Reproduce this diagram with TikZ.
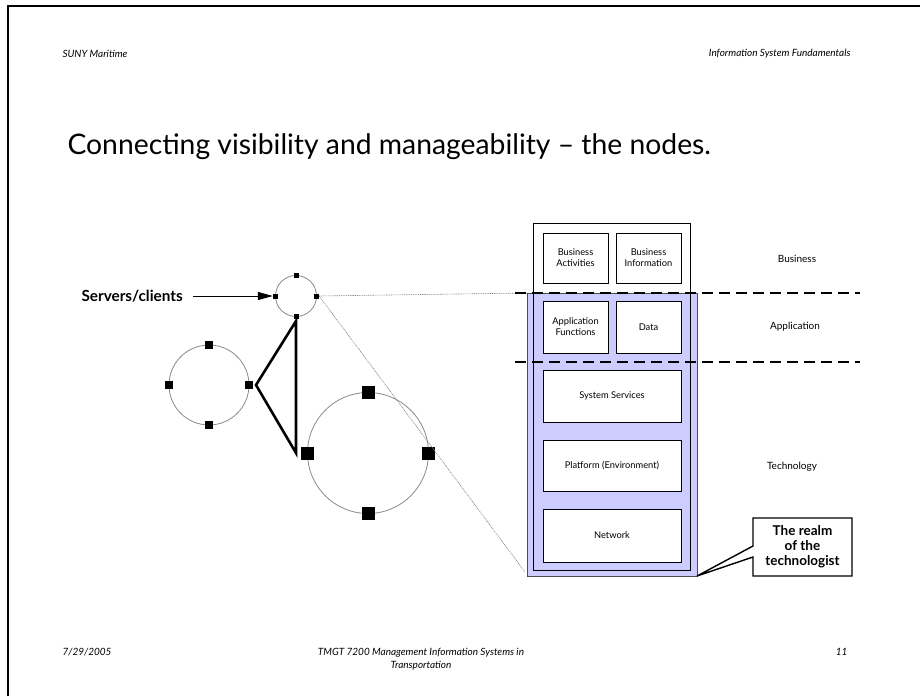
\documentclass[tikz,border=0pt]{standalone}
\usepackage{fontspec}
\setmainfont{Lato}
\usetikzlibrary{arrows.meta}
\definecolor{lav}{HTML}{CCCCFF}
\definecolor{ringgray}{HTML}{8A8A8A}
\begin{document}
\begin{tikzpicture}[x=1pt,y=-1pt,
  ring/.style={draw=ringgray,line width=0.8pt,circle,inner sep=0pt},
  sqs/.style={fill=black,inner sep=0pt,minimum size=#1},
  layerbox/.style={draw=black,line width=0.7pt,fill=white,inner sep=0pt,align=center,font=\fontsize{9.3}{11}\selectfont},
  sidelab/.style={font=\fontsize{10}{12}\selectfont},
  hf/.style={font=\fontsize{10}{13}\selectfont\itshape},
  sep/.style={line width=1.4pt,dash pattern=on 11pt off 6pt},
  zoomline/.style={draw=gray,line width=0.6pt,dash pattern=on 1pt off 0.8pt},
  thick3/.style={line width=2.6pt,line join=miter}]
\useasboundingbox (0,0) rectangle (920,696);
% frame
\draw[line width=1.6pt] (8,696) -- (8,6) -- (921,6);
% headers and footers
\node[hf,anchor=west] (h1) at (59,54) {SUNY Maritime};
\node[hf,anchor=east] (h2) at (854,54) {Information System Fundamentals};
\node[hf,anchor=west] (f1) at (59,652) {7/29/2005};
\node[hf,align=center] (f2) at (421,659) {TMGT 7200 Management Information Systems in\\Transportation};
\node[hf,anchor=east] (f3) at (851,652) {11};
% title
\node[anchor=west,font=\fontsize{28.3}{32}\selectfont] (title) at (64,147) {Connecting visibility and manageability -- the nodes.};
% rings
\node[ring,minimum size=41pt] (c1) at (296,296) {};
\node[sqs=5pt] (s1t) at (296,275) {};
\node[sqs=5pt] (s1l) at (275.5,296) {};
\node[sqs=5pt] (s1r) at (316.5,296) {};
\node[sqs=5pt] (s1b) at (296,316.5) {};
\node[ring,minimum size=80pt] (c2) at (209,385) {};
\node[sqs=8pt] (s2t) at (209,345) {};
\node[sqs=8pt] (s2l) at (169,385) {};
\node[sqs=8pt] (s2r) at (249,385) {};
\node[sqs=8pt] (s2b) at (209,425) {};
\node[ring,minimum size=121pt] (c3) at (368,453) {};
\node[sqs=13pt] (s3t) at (368,392.5) {};
\node[sqs=13pt] (s3l) at (307.5,453) {};
\node[sqs=13pt] (s3r) at (428.5,453) {};
\node[sqs=13pt] (s3b) at (368,513.5) {};
% triangle link
\coordinate (ta) at (256,385);
\coordinate (tb) at (296,321);
\coordinate (tc) at (296,453);
\draw[thick3] (ta) -- (tb) -- (tc) -- cycle;
% servers/clients label and arrow
\node[anchor=west,font=\fontsize{15.3}{17}\bfseries] (srv) at (78,296) {Servers/clients};
\coordinate (arrs) at (193,296);
\draw[line width=0.8pt,-{Triangle[length=15pt,width=8pt]}] (arrs) -- (s1l.west);
% layer stack
\coordinate (zt) at (527,293);
\coordinate (zb) at (525,572);
\draw[zoomline] (s1r.east) -- (zt);
\draw[zoomline] (s1r.east) -- (zb);
\fill[white] (533,223) rectangle (690,293);
\draw[draw=black!70,line width=0.8pt,fill=lav] (527,293) rectangle (697,576);
\draw[line width=0.8pt] (533,223) rectangle (690,570);
\node[layerbox,minimum width=65pt,minimum height=50pt] (ba) at (575.5,258) {Business\\Activities};
\node[layerbox,minimum width=65pt,minimum height=50pt] (bi) at (648.5,258) {Business\\Information};
\node[layerbox,minimum width=65pt,minimum height=52pt] (af) at (575.5,327) {Application\\Functions};
\node[layerbox,minimum width=65pt,minimum height=52pt] (da) at (648.5,327) {Data};
\node[layerbox,minimum width=138pt,minimum height=52pt] (ss) at (612,396) {System Services};
\node[layerbox,minimum width=138pt,minimum height=51pt] (pe) at (612,465.5) {Platform (Environment)};
\node[layerbox,minimum width=138pt,minimum height=53pt] (nw) at (612,535.5) {Network};
% separators
\coordinate (d1a) at (515,293);
\coordinate (d1b) at (860,293);
\coordinate (d2a) at (515,362);
\coordinate (d2b) at (860,362);
\draw[sep] (d1a) -- (d1b);
\draw[sep] (d2a) -- (d2b);
\node[sidelab] (lb) at (797,259) {Business};
\node[sidelab] (la) at (795,327) {Application};
\node[sidelab] (lt) at (792,467) {Technology};
% callout
\coordinate (tip) at (697,576);
\draw[line width=1.4pt,fill=white,line join=miter] (753,518) -- (852,518) -- (852,576) -- (753,576) -- (753,557) -- (tip) -- (753,546) -- cycle;
\node[align=center,font=\fontsize{13.5}{15}\bfseries] (realm) at (802.5,546.5) {The realm\\of the\\technologist};
\end{tikzpicture}
\end{document}
